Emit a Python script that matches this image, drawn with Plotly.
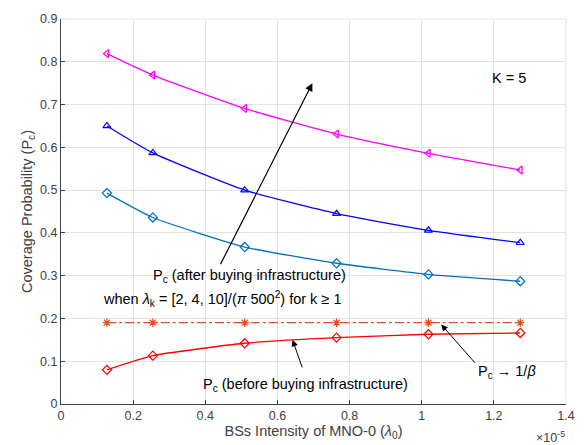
import plotly.graph_objects as go

# x values (units of 1e-5)
x_vals = [0.1273, 0.2546, 0.5093, 0.7639, 1.0186, 1.2732]
after_high = [0.819, 0.769, 0.691, 0.631, 0.586, 0.547]
after_mid = [0.650, 0.587, 0.500, 0.445, 0.406, 0.377]
after_low = [0.493, 0.436, 0.367, 0.329, 0.303, 0.287]
limit_vals = [0.19, 0.19, 0.19, 0.19, 0.19, 0.19]
before_vals = [0.080, 0.113, 0.142, 0.155, 0.163, 0.166]

x_ticks = [0, 0.2, 0.4, 0.6, 0.8, 1.0, 1.2, 1.4]
x_tick_text = ["0", "0.2", "0.4", "0.6", "0.8", "1", "1.2", "1.4"]
y_ticks = [0, 0.1, 0.2, 0.3, 0.4, 0.5, 0.6, 0.7, 0.8, 0.9]
y_tick_text = ["0", "0.1", "0.2", "0.3", "0.4", "0.5", "0.6", "0.7", "0.8", "0.9"]

FONT = "Liberation Sans, Arial, Helvetica, sans-serif"

fig = go.Figure()

def add(y, color, symbol, dash="solid", msize=7):
    fig.add_trace(go.Scatter(
        x=x_vals, y=y, mode="lines+markers",
        line=dict(color=color, width=1.3, dash=dash, shape="spline", smoothing=0.5),
        marker=dict(symbol=symbol, size=msize, color=color,
                    line=dict(color=color, width=1.2)),
        showlegend=False,
    ))

add(after_high, "#FF00FF", "triangle-left-open")
add(after_mid, "#0000FF", "triangle-up-open")
add(after_low, "#0072BD", "diamond-open")
add(limit_vals, "#D95319", "asterisk-open", dash="dashdot")
add(before_vals, "#FF0000", "diamond-open")

annotations = [
    dict(x=0.523, y=0.299, text="P<sub>c</sub> (after buying infrastructure)", showarrow=False),
    dict(x=0.445, y=0.245, text="when <i>λ</i><sub>k</sub> = [2, 4, 10]/(<i>π</i> 500<sup>2</sup>) for k ≥ 1", showarrow=False),
    dict(x=1.242, y=0.762, text="K = 5", showarrow=False),
    dict(x=0.678, y=0.045, text="P<sub>c</sub> (before buying infrastructure)", showarrow=False),
    dict(x=1.237, y=0.075, text="P<sub>c</sub> → 1/<i>β</i>", showarrow=False),
    # arrows
    dict(x=0.697, y=0.75, ax=0.44, ay=0.323, axref="x", ayref="y", text="",
         showarrow=True, arrowhead=2, arrowsize=1.3, arrowwidth=1.2, arrowcolor="black"),
    dict(x=0.642, y=0.15, ax=0.670, ay=0.082, axref="x", ayref="y", text="",
         showarrow=True, arrowhead=2, arrowsize=1.3, arrowwidth=1.0, arrowcolor="black"),
    dict(x=1.054, y=0.186, ax=1.151, ay=0.093, axref="x", ayref="y", text="",
         showarrow=True, arrowhead=2, arrowsize=1.3, arrowwidth=1.0, arrowcolor="black"),
]
for a in annotations:
    a.setdefault("xref", "x")
    a.setdefault("yref", "y")
    a["font"] = dict(family=FONT, size=14.5, color="#000000")
annotations.append(dict(xref="paper", yref="paper", x=0.937, y=-0.085, xanchor="left",
                        yanchor="middle", text="×10<sup>-5</sup>", showarrow=False,
                        font=dict(family=FONT, size=12.5, color="#404040")))

fig.update_layout(
    width=587, height=445,
    margin=dict(l=61, r=20, t=12, b=36),
    paper_bgcolor="white", plot_bgcolor="white",
    font=dict(family=FONT, size=12.5, color="#262626"),
    annotations=annotations,
    xaxis=dict(range=[0, 1.4], tickvals=x_ticks, ticktext=x_tick_text,
               showgrid=True, gridcolor="#E3E3E3", gridwidth=1,
               showline=True, linecolor="#404040", linewidth=1, mirror=False,
               ticks="inside", ticklen=4, tickcolor="#404040", zeroline=False,
               tickfont=dict(size=12.5, color="#404040"),
               title=dict(text="BSs Intensity of MNO-0 (<i>λ</i><sub>0</sub>)",
                          font=dict(size=14.5, color="#404040"), standoff=0)),
    yaxis=dict(range=[0, 0.9], tickvals=y_ticks, ticktext=y_tick_text,
               showgrid=True, gridcolor="#E3E3E3", gridwidth=1,
               showline=True, linecolor="#404040", linewidth=1, mirror=False,
               ticks="inside", ticklen=4, tickcolor="#404040", zeroline=False,
               tickfont=dict(size=12.5, color="#404040"),
               title=dict(text="Coverage Probability (P<sub>c</sub>)",
                          font=dict(size=14.5, color="#404040"), standoff=4)),
)
# light top/right borders (grid-like)
fig.add_shape(type="line", xref="paper", yref="paper", x0=0, x1=1, y0=1, y1=1,
              line=dict(color="#E3E3E3", width=1))
fig.add_shape(type="line", xref="paper", yref="paper", x0=1, x1=1, y0=0, y1=1,
              line=dict(color="#E3E3E3", width=1))

fig.write_html("out.html")
